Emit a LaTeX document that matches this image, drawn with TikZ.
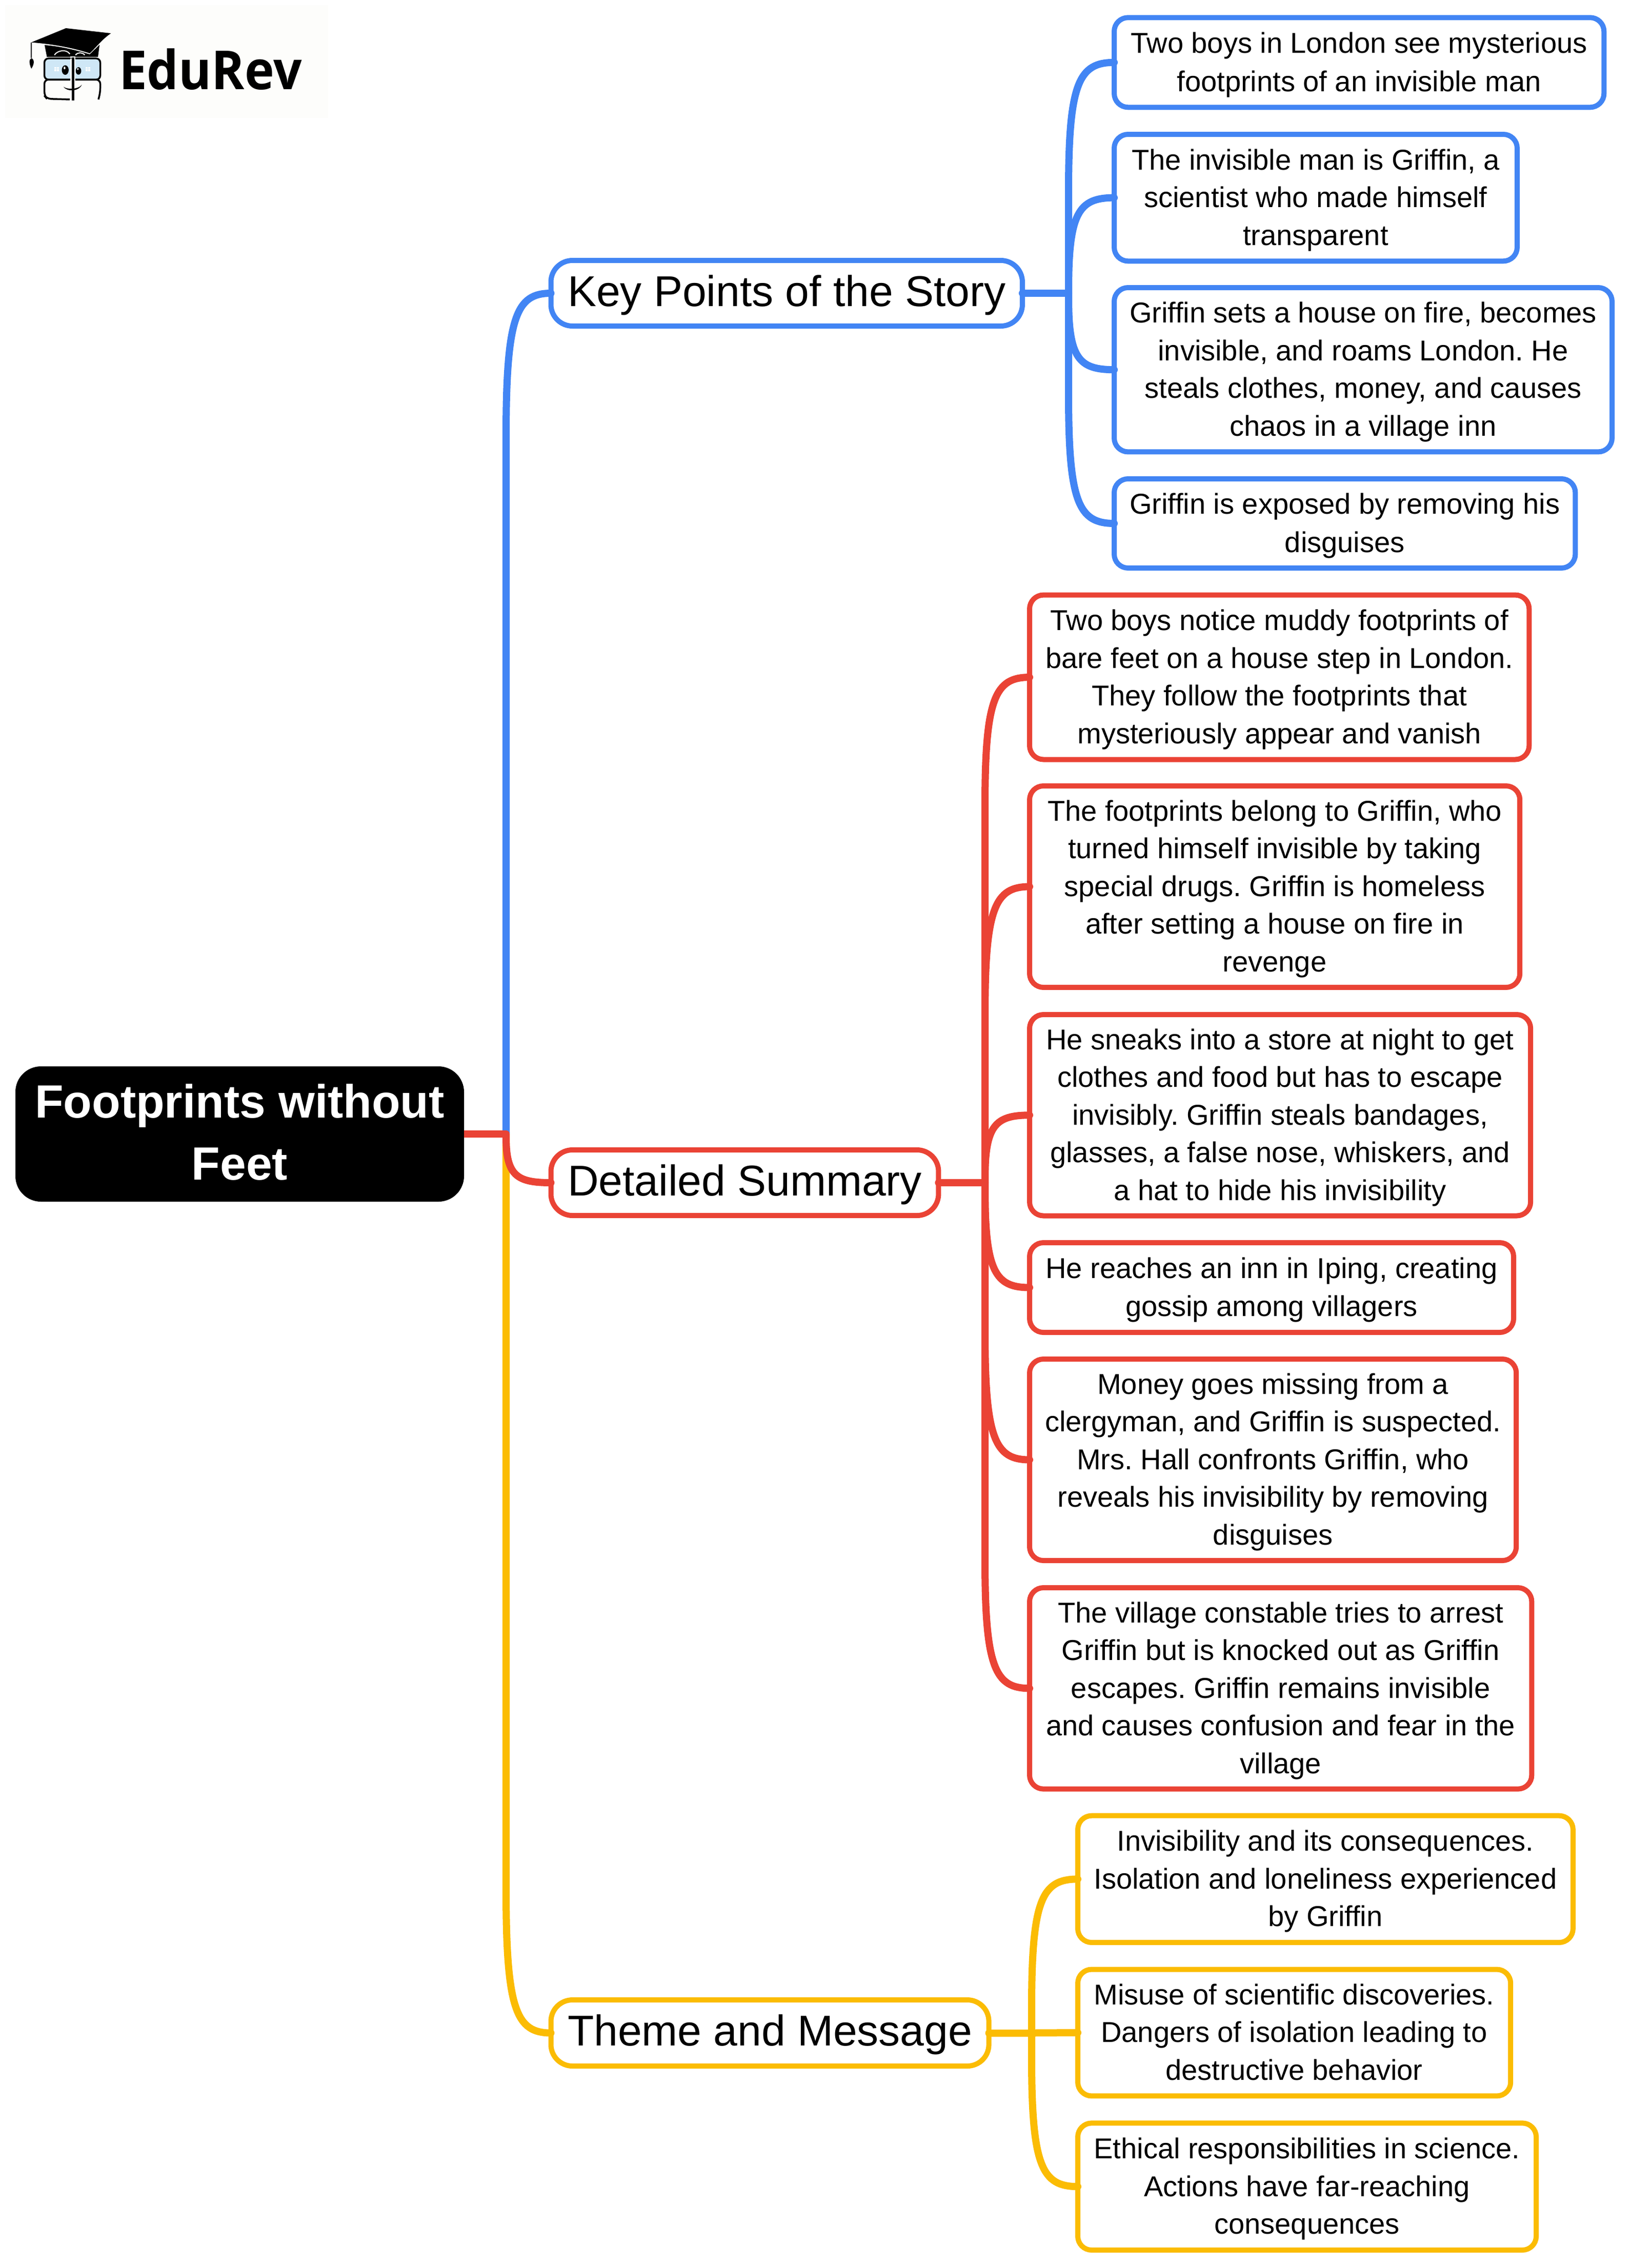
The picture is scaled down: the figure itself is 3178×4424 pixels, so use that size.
\documentclass[tikz,border=0pt]{standalone}
\usepackage{fontspec}
\setmainfont[Ligatures=NoCommon]{Liberation Sans}
\newfontfamily\logofont{Open Sans}
\usetikzlibrary{calc}
\definecolor{gblue}{HTML}{4285F4}
\definecolor{gred}{HTML}{EA4335}
\definecolor{gyel}{HTML}{FBBC04}
\definecolor{lens}{HTML}{CFE7F6}
\definecolor{logobg}{HTML}{FDFDFB}
% [strut depth]{name}{style}{outer left}{outer top}{outer bottom}{text}
\newcommand\tbox[7][.32em]{%
  \pgfmathsetmacro\lxv{#4+5}\pgfmathsetmacro\cyv{(#5+#6)/2}%
  \pgfmathsetmacro\hv{#6-#5-10}%
  \node[#3,minimum height=\hv pt] (#2) at (\lxv,\cyv) {\rule[-#1]{0pt}{1.315em}#7\rule[-#1]{0pt}{1.315em}};}
\newcommand\branch[4]{%
  \draw[conn,#1] (#2) -- ($(#2 |- #3.west)+(0,#4)$)
    .. controls ($(#2 |- #3.west)+(0,{0.16*(#4)})$) and ($(#2 |- #3.west)+(20,0)$) .. (#3.west);}
\tikzset{
  conn/.style={line width=14pt,line cap=round,line join=round},
  body/.style={draw,fill=white,line width=10pt,rounded corners=27pt,inner ysep=0pt,inner xsep=32.5pt,outer sep=0pt,anchor=west,align=center,text=black,font=\fontsize{56}{73.5}\selectfont},
  mainbox/.style={draw,fill=white,line width=10pt,rounded corners=42pt,inner ysep=0pt,inner xsep=32.5pt,outer sep=0pt,anchor=west,align=center,text=black,font=\fontsize{84}{110}\selectfont},
  rootbox/.style={fill=black,rounded corners=50pt,inner sep=0pt,outer sep=0pt,align=center,text=white,font=\bfseries\fontsize{91}{118}\selectfont},
}
\begin{document}
\frenchspacing
\begin{tikzpicture}[x=1pt,y=-1pt]
\useasboundingbox (0,0) rectangle (3178,4424);
% logo
\fill[logobg] (10,10) rectangle (640,230);
\begin{scope}[xscale=0.4464,yscale=0.3333]
  \fill (137,248) -- (288,165) -- (485,195) .. controls (450,225) and (425,270) .. (392,312) .. controls (320,280) and (230,258) .. cycle;
  \fill (195,264) .. controls (270,272) and (335,295) .. (392,318) -- (435,262) -- (428,333) -- (205,333) -- cycle;
  \draw[white,line width=2pt] (238,322) .. controls (250,295) and (290,285) .. (305,316);
  \draw[white,line width=2pt] (330,322) .. controls (340,305) and (360,305) .. (370,322);
  \draw[line width=2pt] (137,248) -- (137,340);
  \fill (137,340) .. controls (125,350) and (128,375) .. (137,402) .. controls (150,375) and (152,350) .. (137,340) -- cycle;
  \draw[line width=3.5pt,fill=lens,rounded corners=8pt] (194,342) rectangle (438,466);
  \draw[line width=3.5pt,rounded corners=8pt] (305,582) -- (205,578) -- (194,560) -- (194,466) -- (438,466) -- (438,540) -- (430,582);
  \fill[white] (306,330) rectangle (329,590);
  \fill (314,335) rectangle (324,588);
  \fill (306,338) rectangle (314,342);
  \fill[black] (285,410) ellipse (15 and 28);
  \fill[black] (343,415) ellipse (12 and 22);
  \fill[white] (282,398) ellipse (4 and 8);
  \fill[white] (340,404) ellipse (3 and 6);
  \fill[white] (237,392) rectangle (258,416);
  \fill[white] (374,392) rectangle (395,416);
  \draw[lens,line width=1pt] (247,392) -- (247,416) (237,404) -- (258,404) (384,392) -- (384,416) (374,404) -- (395,404);
  \fill (277,508) .. controls (295,525) and (340,525) .. (358,496) .. controls (345,535) and (295,540) .. cycle;
\end{scope}
\node[anchor=base west,inner sep=0pt,transform shape,xscale=.93,font=\logofont\bfseries\fontsize{105}{105}\selectfont] (logo) at (232,174) {EduRev};
% nodes
\node[rootbox,minimum width=875pt,minimum height=264pt] (root) at (467.5,2212) {\rule[-.34em]{0pt}{1.315em}Footprints without\\Feet\rule[-.34em]{0pt}{1.315em}};
\tbox[.355em]{kp}{mainbox,draw=gblue}{1069.5}{503}{641}{Key Points of the Story}
\tbox[.355em]{dt}{mainbox,draw=gred}{1069.5}{2238}{2376}{Detailed Summary}
\tbox[.355em]{th}{mainbox,draw=gyel}{1069.5}{3896}{4035}{Theme and Message}
\tbox{b1}{body,draw=gblue}{2168}{29.3}{214.3}{Two boys in London see mysterious\\footprints of an invisible man}
\tbox{b2}{body,draw=gblue,inner xsep=34pt}{2168}{257}{514.3}{The invisible man is Griffin, a\\scientist who made himself\\transparent}
\tbox{b3}{body,draw=gblue,inner xsep=30pt}{2168}{556}{886.4}{Griffin sets a house on fire, becomes\\invisible, and roams London. He\\steals clothes, money, and causes\\chaos in a village inn}
\tbox{b4}{body,draw=gblue,inner xsep=30pt}{2168}{929}{1113}{Griffin is exposed by removing his\\disguises}
\tbox{r1}{body,draw=gred,inner xsep=31pt}{2003}{1155.6}{1486.5}{Two boys notice muddy footprints of\\bare feet on a house step in London.\\They follow the footprints that\\mysteriously appear and vanish}
\tbox{r2}{body,draw=gred,inner xsep=35pt}{2003}{1528}{1931}{The footprints belong to Griffin, who\\turned himself invisible by taking\\special drugs. Griffin is homeless\\after setting a house on fire in\\revenge}
\tbox{r3}{body,draw=gred}{2003}{1974}{2376.5}{He sneaks into a store at night to get\\clothes and food but has to escape\\invisibly. Griffin steals bandages,\\glasses, a false nose, whiskers, and\\a hat to hide his invisibility}
\tbox{r4}{body,draw=gred,inner xsep=31.5pt}{2003}{2419}{2604}{He reaches an inn in Iping, creating\\gossip among villagers}
\tbox{r5}{body,draw=gred,inner xsep=30pt}{2003}{2646}{3049}{Money goes missing from a\\clergyman, and Griffin is suspected.\\Mrs. Hall confronts Griffin, who\\reveals his invisibility by removing\\disguises}
\tbox{r6}{body,draw=gred,inner xsep=32pt}{2003}{3092}{3494.6}{The village constable tries to arrest\\Griffin but is knocked out as Griffin\\escapes. Griffin remains invisible\\and causes confusion and fear in the\\village}
\tbox{y1}{body,draw=gyel,inner xsep=31.5pt}{2097}{3536.7}{3794}{Invisibility and its consequences.\\Isolation and loneliness experienced\\by Griffin}
\tbox{y2}{body,draw=gyel,inner xsep=31.5pt}{2097}{3836.5}{4093.4}{Misuse of scientific discoveries.\\Dangers of isolation leading to\\destructive behavior}
\tbox{y3}{body,draw=gyel,inner xsep=31.5pt}{2097}{4136.3}{4394}{Ethical responsibilities in science.\\Actions have far-reaching\\consequences}
% trunks
\coordinate (rt) at (987,2212);
\coordinate (kt) at (2084,0 |- kp.east);
\coordinate (dtt) at (1921,0 |- dt.east);
\coordinate (tt) at (2012,0 |- th.east);
% connectors
\branch{gyel}{rt}{th}{-280}
\branch{gblue}{rt}{kp}{280}
\branch{gred}{rt}{dt}{-90}
\draw[conn,gred,line cap=butt] (root.east |- rt) -- (rt);
\draw[conn,gblue] (kp.east) -- (kt);
\draw[conn,gred] (dt.east) -- (dtt);
\draw[conn,gyel] (th.east) -- (tt);
\branch{gblue}{kt}{b1}{250}
\branch{gblue}{kt}{b2}{180}
\branch{gblue}{kt}{b3}{-140}
\branch{gblue}{kt}{b4}{-250}
\branch{gred}{dtt}{r1}{250}
\branch{gred}{dtt}{r2}{250}
\branch{gred}{dtt}{r3}{125}
\branch{gred}{dtt}{r4}{-195}
\branch{gred}{dtt}{r5}{-250}
\branch{gred}{dtt}{r6}{-250}
\branch{gyel}{tt}{y1}{250}
\draw[conn,gyel] (tt) -- (y2.west);
\branch{gyel}{tt}{y3}{-250}
\end{tikzpicture}
\end{document}
